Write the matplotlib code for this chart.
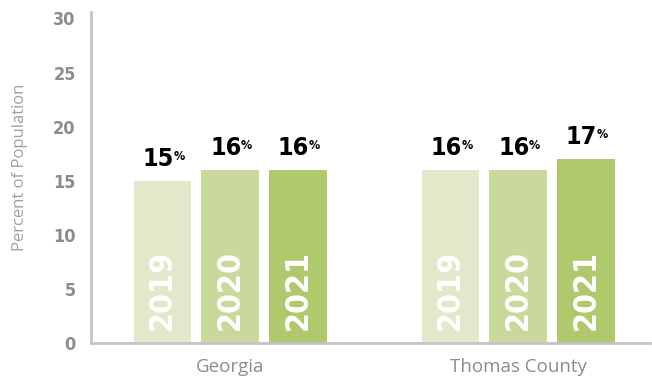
import numpy as np
import matplotlib
matplotlib.use("Agg")
import matplotlib.pyplot as plt

# share of population, by area and year
areas = ["Georgia", "Thomas County"]
years = ["2019", "2020", "2021"]
values = {
    "2019": [15, 16],
    "2020": [16, 16],
    "2021": [16, 17],
}
bar_colors = ["#e2e8c9", "#c9d99b", "#afc96c"]
yticks = [0, 5, 10, 15, 20, 25, 30]

narrow = dict(family="DejaVu Sans", stretch="condensed", fontweight="bold")
grey = "#8c8c8c"

fig = plt.figure(figsize=(6.52, 3.78), dpi=100)
ax = fig.add_axes([91 / 652, 35 / 378, 559 / 652, 331 / 378])

centers = np.arange(len(areas))
step = 0.235
width = 0.2

for i, yr in enumerate(years):
    xs = centers + (i - 1) * step
    vals = values[yr]
    ax.bar(xs, vals, width=width, color=bar_colors[i], zorder=2)
    for x, v in zip(xs, vals):
        # year written up the inside of the bar
        ax.annotate(yr, xy=(x, 0), xytext=(0, 9), textcoords="offset points",
                    rotation=90, ha="center", va="bottom", color="white",
                    fontsize=23, zorder=3, **narrow)
        # value label with a small raised percent sign
        t = ax.annotate(str(v), xy=(x, v), xytext=(-3, 7), textcoords="offset points",
                        ha="center", va="bottom", color="black",
                        fontsize=18, **narrow)
        ax.annotate("%", xy=(1, 1), xycoords=t, xytext=(-0.5, -2),
                    textcoords="offset points", ha="left", va="top",
                    color="black", fontsize=9, **narrow)

ax.set_xlim(-0.483, 1.458)
ax.set_ylim(0, 30.6)
ax.set_yticks(yticks)
ax.set_yticklabels([str(t) for t in yticks], color=grey, fontsize=13, **narrow)
ax.set_xticks(centers)
ax.set_xticklabels(areas, color=grey, fontsize=13.5, family=["Open Sans", "DejaVu Sans"])
ax.tick_params(axis="y", length=0, pad=11)
ax.tick_params(axis="x", length=0, pad=11)

for side in ["top", "right"]:
    ax.spines[side].set_visible(False)
for side in ["left", "bottom"]:
    ax.spines[side].set_color("#c4c4c4")
    ax.spines[side].set_linewidth(2)

ax.set_ylabel("Percent of Population", color="#a0a0a0", fontsize=12,
              family=["Open Sans", "DejaVu Sans"])
ax.yaxis.set_label_coords(-0.113, 0.53)

fig.savefig("out.png", dpi=100)
